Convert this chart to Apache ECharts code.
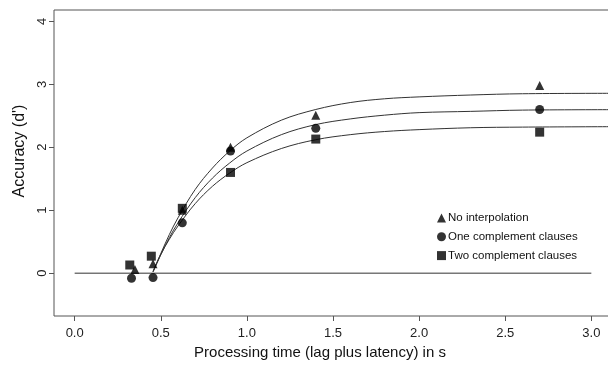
<!DOCTYPE html>
<html>
<head>
<meta charset="utf-8">
<script src="https://cdn.jsdelivr.net/npm/echarts@6/dist/echarts.min.js"></script>
<style>
html,body{margin:0;padding:0;background:#fff;}
#chart{width:608px;height:367px;}
</style>
</head>
<body>
<div id="chart"></div>
<script>
// Observed data points [processing time (s), d']
var noInterp = [[0.35, 0.06], [0.455, 0.15], [0.625, 1.0], [0.905, 2.0], [1.40, 2.51], [2.70, 2.98]];
var oneClause = [[0.33, -0.08], [0.455, -0.07], [0.625, 0.80], [0.905, 1.94], [1.40, 2.30], [2.70, 2.60]];
var twoClause = [[0.32, 0.13], [0.445, 0.27], [0.625, 1.03], [0.905, 1.60], [1.40, 2.13], [2.70, 2.24]];

// Fitted curves
var curveX = [0.455, 0.50, 0.55, 0.60, 0.70, 0.80, 0.90, 1.00, 1.20, 1.40, 1.60, 1.80, 2.00, 2.30, 2.60, 3.12];
var curveNo = [0.02, 0.31, 0.615, 0.88, 1.33, 1.67, 1.94, 2.15, 2.43, 2.60, 2.71, 2.77, 2.80, 2.83, 2.85, 2.857];
var curveOne = [0.02, 0.29, 0.565, 0.80, 1.20, 1.51, 1.75, 1.94, 2.20, 2.36, 2.45, 2.51, 2.55, 2.57, 2.59, 2.597];
var curveTwo = [0.03, 0.30, 0.54, 0.75, 1.105, 1.38, 1.59, 1.755, 1.98, 2.12, 2.20, 2.25, 2.28, 2.31, 2.32, 2.327];

var xTicks = [0, 0.5, 1.0, 1.5, 2.0, 2.5, 3.0];
var yTicks = [0, 1, 2, 3, 4];
var zeroLine = [[0, 0], [3.0, 0]];

var names = ['No interpolation', 'One complement clauses', 'Two complement clauses'];

function pairs(xs, ys) { return xs.map(function (x, i) { return [x, ys[i]]; }); }

var FONT = '"Liberation Sans", Arial, Helvetica, sans-serif';
var chart = echarts.init(document.getElementById('chart'));

function curveSeries(data) {
  return {
    type: 'line', data: data, smooth: 0.35, symbol: 'none', silent: true,
    lineStyle: { color: '#333', width: 1 }, z: 2
  };
}
function pointSeries(name, data, symbol) {
  return {
    type: 'scatter', name: name, data: data, symbol: symbol, symbolSize: 9,
    itemStyle: { color: '#000' }, z: 5
  };
}

chart.setOption({
  animation: false,
  backgroundColor: '#fff',
  grid: {
    left: 54, top: 10, width: 558, height: 306, show: true,
    borderColor: '#555', borderWidth: 1, backgroundColor: 'transparent',
    outerBoundsMode: 'none', containLabel: false
  },
  xAxis: {
    type: 'value', min: -0.12, max: 3.12,
    axisLine: { show: false, onZero: false },
    splitLine: { show: false },
    axisTick: { show: true, length: 5, inside: false, customValues: xTicks, lineStyle: { color: '#555' } },
    axisLabel: {
      customValues: xTicks, margin: 11, fontSize: 13, color: '#222', fontFamily: FONT,
      formatter: function (v) { return v.toFixed(1); }
    }
  },
  yAxis: {
    type: 'value', min: -0.68, max: 4.18,
    axisLine: { show: false, onZero: false },
    splitLine: { show: false },
    axisTick: { show: true, length: 5, inside: false, customValues: yTicks, lineStyle: { color: '#555' } },
    axisLabel: { customValues: yTicks, rotate: 90, margin: 5, fontSize: 13, color: '#222', fontFamily: FONT }
  },
  legend: {
    data: names, orient: 'vertical', left: 432, top: 207,
    itemWidth: 9, itemHeight: 9, itemGap: 6.8,
    textStyle: { fontSize: 11.5, color: '#111', fontFamily: FONT, padding: [0, 0, 0, -3] }
  },
  graphic: [
    { type: 'text', style: { text: 'Processing time (lag plus latency) in s', font: '15px ' + FONT, fill: '#111', align: 'center', verticalAlign: 'middle' }, position: [320, 353] },
    { type: 'text', style: { text: "Accuracy (d')", font: '16px ' + FONT, fill: '#111', align: 'center', verticalAlign: 'middle' }, position: [20, 151], rotation: Math.PI / 2 }
  ],
  series: [
    { type: 'line', data: zeroLine, symbol: 'none', silent: true, lineStyle: { color: '#333', width: 1 }, z: 1 },
    curveSeries(pairs(curveX, curveNo)),
    curveSeries(pairs(curveX, curveOne)),
    curveSeries(pairs(curveX, curveTwo)),
    pointSeries(names[0], noInterp, 'triangle'),
    pointSeries(names[1], oneClause, 'circle'),
    pointSeries(names[2], twoClause, 'rect')
  ]
});
</script>
</body>
</html>
